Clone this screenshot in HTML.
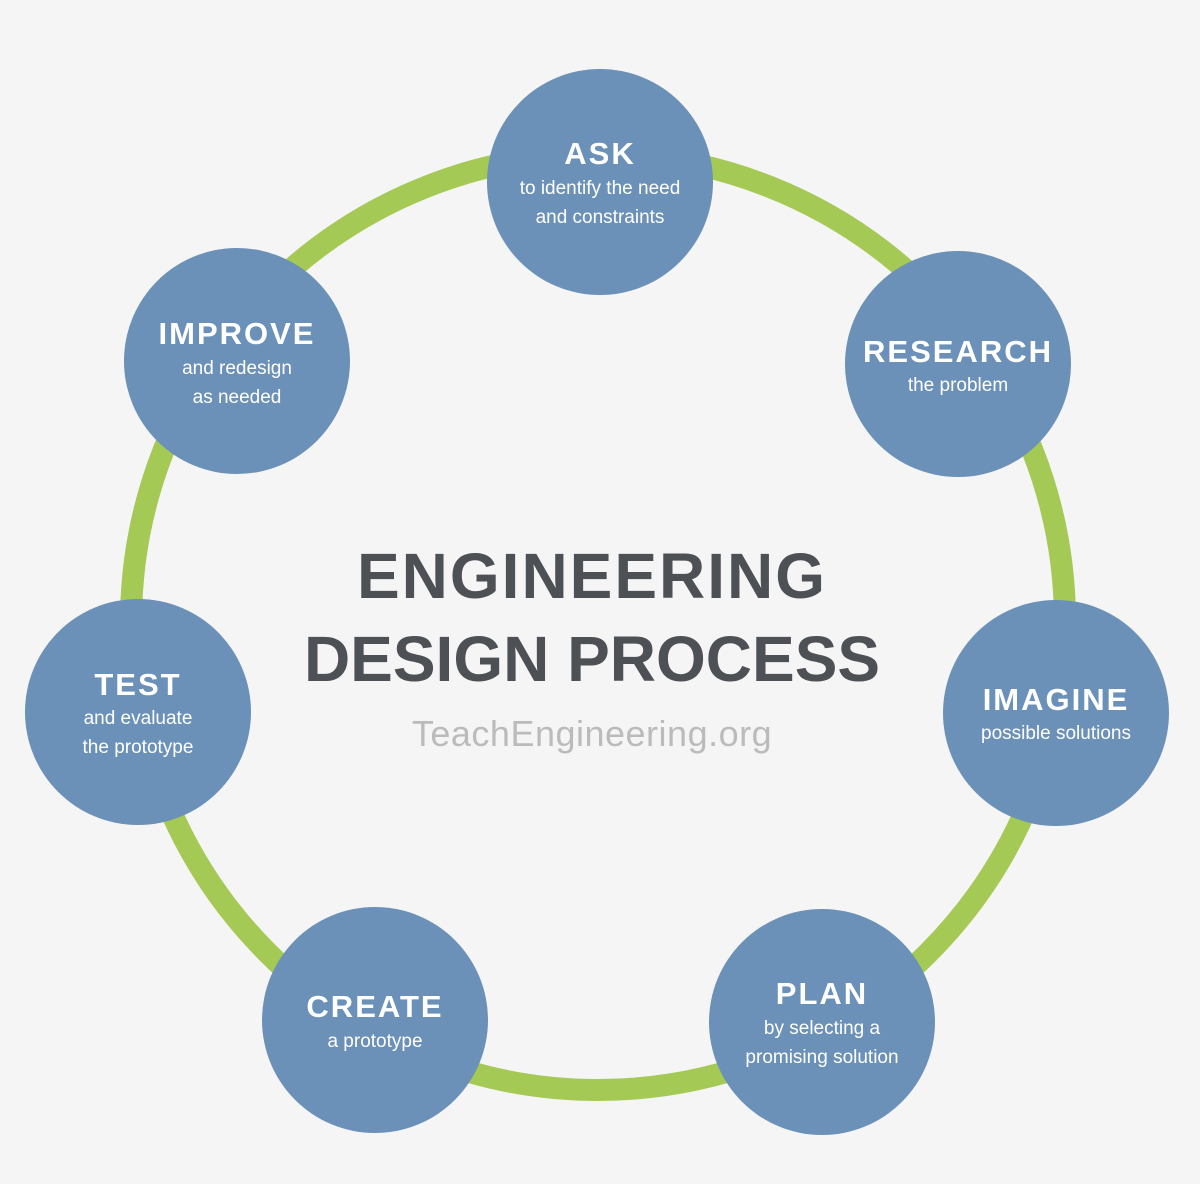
<!DOCTYPE html>
<html><head><meta charset="utf-8"><style>
html,body{margin:0;padding:0;background:#f5f5f5;}
svg{display:block;}
text{font-family:"Liberation Sans","DejaVu Sans",sans-serif;}
</style></head><body>
<svg width="1200" height="1184" viewBox="0 0 1200 1184">
<rect width="1200" height="1184" fill="#f5f5f5"/>
<ellipse cx="598" cy="622" rx="467" ry="468" fill="none" stroke="#a5c955" stroke-width="22"/>
<g fill="#6b91b8">
<circle cx="600" cy="182" r="113"/>
<circle cx="958" cy="364" r="113"/>
<circle cx="1056" cy="713" r="113"/>
<circle cx="822" cy="1022" r="113"/>
<circle cx="375" cy="1020" r="113"/>
<circle cx="138" cy="712" r="113"/>
<circle cx="237" cy="361" r="113"/>
</g>
<g fill="#fff" text-anchor="middle">
<text x="600" y="164" font-size="31" font-weight="bold" letter-spacing="2">ASK</text>
<text x="600" y="194" font-size="19">to identify the need</text>
<text x="600" y="223" font-size="19">and constraints</text>
<text x="958" y="362" font-size="31" font-weight="bold" letter-spacing="2">RESEARCH</text>
<text x="958" y="391" font-size="19">the problem</text>
<text x="1056" y="710" font-size="31" font-weight="bold" letter-spacing="2">IMAGINE</text>
<text x="1056" y="739" font-size="19">possible solutions</text>
<text x="822" y="1004" font-size="31" font-weight="bold" letter-spacing="2">PLAN</text>
<text x="822" y="1034" font-size="19">by selecting a</text>
<text x="822" y="1063" font-size="19">promising solution</text>
<text x="375" y="1017" font-size="31" font-weight="bold" letter-spacing="2">CREATE</text>
<text x="375" y="1047" font-size="19">a prototype</text>
<text x="138" y="695" font-size="31" font-weight="bold" letter-spacing="2">TEST</text>
<text x="138" y="724" font-size="19">and evaluate</text>
<text x="138" y="753" font-size="19">the prototype</text>
<text x="237" y="344" font-size="31" font-weight="bold" letter-spacing="2">IMPROVE</text>
<text x="237" y="374" font-size="19">and redesign</text>
<text x="237" y="403" font-size="19">as needed</text>
</g>
<g text-anchor="middle">
<text x="592" y="598" font-size="64" font-weight="bold" fill="#4d5054" letter-spacing="2">ENGINEERING</text>
<text x="592" y="681" font-size="64" font-weight="bold" fill="#4d5054">DESIGN PROCESS</text>
<text x="592" y="746" font-size="36" fill="#bbbbbb" letter-spacing="0.5">TeachEngineering.org</text>
</g>
</svg>
</body></html>
